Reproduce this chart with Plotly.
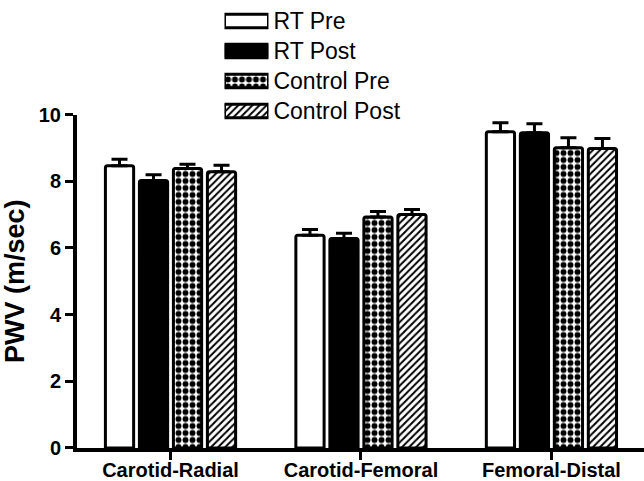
import plotly.graph_objects as go

# Pulse wave velocity by arterial segment, mean with upper SEM
segments = ["Carotid-Radial", "Carotid-Femoral", "Femoral-Distal"]
groups = ["RT Pre", "RT Post", "Control Pre", "Control Post"]

rt_pre = [8.46, 6.38, 9.48]
rt_pre_sem = [0.20, 0.17, 0.27]
rt_post = [8.02, 6.28, 9.45]
rt_post_sem = [0.17, 0.16, 0.27]
control_pre = [8.38, 6.93, 9.00]
control_pre_sem = [0.13, 0.16, 0.30]
control_post = [8.28, 7.00, 8.98]
control_post_sem = [0.20, 0.15, 0.30]

y_ticks = [0, 2, 4, 6, 8, 10]

means = [rt_pre, rt_post, control_pre, control_post]
sems = [rt_pre_sem, rt_post_sem, control_pre_sem, control_post_sem]

# fill style for each group: solid colour or black-on-white pattern
styles = [
    dict(color="white", pattern=dict(shape="")),
    dict(color="black", pattern=dict(shape="")),
    dict(color="white", pattern=dict(shape=".", fgcolor="black", bgcolor="white",
                                      size=7, solidity=0.55, fillmode="replace")),
    dict(color="white", pattern=dict(shape="/", fgcolor="black", bgcolor="white",
                                      size=5, solidity=0.4, fillmode="replace")),
]

fig = go.Figure()

for name, vals, err, st in zip(groups, means, sems, styles):
    fig.add_trace(go.Bar(
        x=segments, y=vals, name=name, showlegend=False,
        marker=dict(color=st["color"], pattern=st["pattern"],
                    line=dict(color="black", width=3), cornerradius=2),
        error_y=dict(type="data", array=err, arrayminus=[0] * len(err),
                     symmetric=False, color="black", thickness=3, width=8),
        xaxis="x", yaxis="y",
    ))

# key swatches drawn as unit-length horizontal bars on their own small axes
for name, st in zip(groups, styles):
    fig.add_trace(go.Bar(
        x=[1], y=[name], orientation="h", width=0.45, showlegend=False,
        marker=dict(color=st["color"], pattern=st["pattern"],
                    line=dict(color="black", width=3)),
        xaxis="x2", yaxis="y2", hoverinfo="skip",
    ))

fig.update_layout(
    width=644, height=481,
    margin=dict(l=77, r=0, t=0, b=33),
    paper_bgcolor="white", plot_bgcolor="white",
    barmode="group", bargap=0.286, bargroupgap=0.17,
    font=dict(family="Arial, Liberation Sans, sans-serif", color="black"),
    xaxis=dict(
        domain=[0, 1], range=[-0.491, 2.486], anchor="y", automargin=False,
        showline=True, linewidth=4, linecolor="black",
        ticks="outside", ticklen=8, tickwidth=3, tickcolor="black",
        tickfont=dict(size=20, weight="bold"), ticklabelstandoff=-7,
        showgrid=False, zeroline=False,
    ),
    yaxis=dict(
        domain=[0, 0.7444], range=[0, 10], anchor="x", automargin=False,
        tickvals=y_ticks, ticktext=[str(v) for v in y_ticks],
        showline=True, linewidth=4, linecolor="black",
        ticks="outside", ticklen=8, tickwidth=3, tickcolor="black",
        tickfont=dict(size=20, weight="bold"), showgrid=False, zeroline=False,
        title=dict(text="PWV (m/sec)", font=dict(size=27, weight="bold"), standoff=12),
    ),
    xaxis2=dict(
        domain=[0.2601, 0.3377], range=[0, 1], anchor="y2",
        visible=False, fixedrange=True,
    ),
    yaxis2=dict(
        domain=[0.71875, 0.9866], anchor="x2", side="right", automargin=False,
        type="category", categoryorder="array", categoryarray=groups,
        autorange="reversed", showline=False, showgrid=False, zeroline=False,
        ticks="", tickfont=dict(size=23), ticklabelstandoff=4, fixedrange=True,
    ),
)

fig.write_html("out.html")
